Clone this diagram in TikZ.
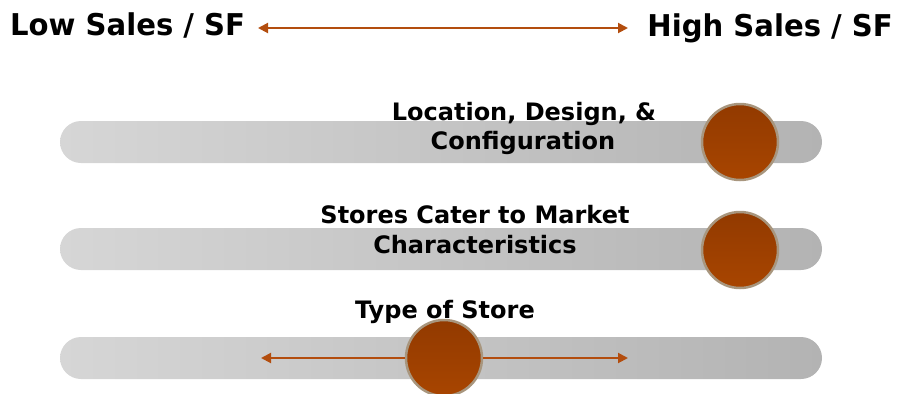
\documentclass[tikz,border=0pt]{standalone}
\usepackage{fontspec}
\newfontfamily\labbig{DejaVu Sans Bold}[FakeStretch=0.97]
\newfontfamily\labmid{DejaVu Sans Bold}[FakeStretch=1.0]
\usetikzlibrary{arrows.meta}
\definecolor{arr}{HTML}{B34D0E}
\definecolor{barL}{HTML}{D6D6D6}
\definecolor{barR}{HTML}{B3B3B3}
\definecolor{dotT}{HTML}{923A00}
\definecolor{dotB}{HTML}{A84500}
\definecolor{dotE}{HTML}{A8967E}
\tikzset{
  bigtxt/.style={font=\labbig\fontsize{30}{30}\selectfont, inner sep=0pt, text=black},
  midtxt/.style={font=\labmid\fontsize{24}{24}\selectfont, inner sep=0pt, text=black},
  dot/.style={circle, minimum size=76pt, inner sep=0pt, draw=dotE, line width=2.5pt, top color=dotT, bottom color=dotB},
  arrline/.style={draw=arr, line width=2pt, {Triangle[length=10pt,width=10pt]}-{Triangle[length=10pt,width=10pt]}},
  onearr/.style={draw=arr, line width=2pt, -{Triangle[length=10pt,width=10pt]}}
}
\begin{document}
\begin{tikzpicture}[x=1pt,y=-1pt]
\useasboundingbox (0,0) rectangle (898,394);
% bars
\shade[left color=barL, right color=barR, rounded corners=21pt] (60,121) rectangle (822,163);
\shade[left color=barL, right color=barR, rounded corners=21pt] (60,228) rectangle (822,270);
\shade[left color=barL, right color=barR, rounded corners=21pt] (60,337) rectangle (822,379);
% top labels
\node[bigtxt, anchor=base west] (low) at (10,35) {Low Sales / SF};
\node[bigtxt, anchor=base east] (high) at (893,36) {High Sales / SF};
\coordinate (ta) at (258,28);
\coordinate (tb) at (628,28);
\draw[arrline] (ta) -- (tb);
% labels
\node[midtxt, anchor=base] (l1a) at (524,120) {Location, Design, \&};
\node[midtxt, anchor=base] (l1b) at (523,149) {Configuration};
\node[midtxt, anchor=base] (l2a) at (475,223) {Stores Cater to Market};
\node[midtxt, anchor=base] (l2b) at (475,253) {Characteristics};
\node[midtxt, anchor=base] (l3) at (445,318) {Type of Store};
% dots
\node[dot] (d1) at (740,142) {};
\node[dot] (d2) at (740,250) {};
\node[dot] (d3) at (444,358) {};
\coordinate (bl) at (261,358);
\coordinate (br) at (628,358);
\draw[onearr] (d3.west) -- (bl);
\draw[onearr] (d3.east) -- (br);
\end{tikzpicture}
\end{document}
